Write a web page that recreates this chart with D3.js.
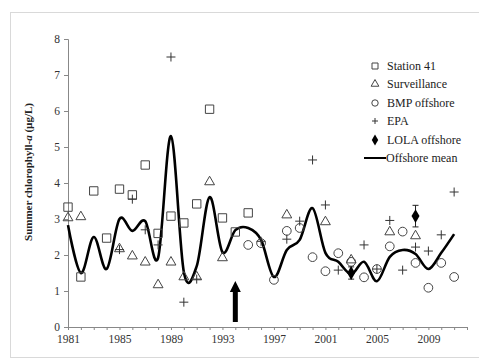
<!DOCTYPE html>
<html><head><meta charset="utf-8">
<script src="https://cdn.jsdelivr.net/npm/d3@7"></script>
<style>body{margin:0;background:#fff}svg{display:block}text{font-family:"Liberation Serif","DejaVu Serif",serif}</style>
</head><body><svg id="c" width="479" height="360"></svg>
<script>
const meanYears = d3.range(1981, 2012);
const offshoreMean = [2.83,1.5,2.5,1.61,3.0,2.67,2.94,1.92,5.3,1.53,1.69,3.61,2.08,2.69,2.75,2.42,1.39,2.14,2.42,3.3,2.06,1.81,1.47,1.81,1.27,1.95,2.14,2.03,1.61,2.06,2.58];
const station41Years = d3.range(1981, 1996);
const station41 = [3.33,1.39,3.78,2.47,3.83,3.67,4.5,2.6,3.08,2.89,3.42,6.05,3.03,2.64,3.17];
const survYears = [1981,1982,1985,1986,1987,1988,1989,1990,1991,1992,1993,1998,2001,2003,2006,2008];
const surveillance = [3.03,3.06,2.17,1.97,1.8,1.17,1.8,1.39,1.39,4.03,1.92,3.11,2.92,1.86,2.64,2.53];
const bmpYears = d3.range(1995, 2012);
const bmpOffshore = [2.28,2.33,1.31,2.67,2.75,1.94,1.55,2.05,1.81,1.38,1.61,2.24,2.65,1.78,1.09,1.78,1.39];
const epaYears = [1985,1986,1987,1988,1989,1990,1991,1996,1998,1999,2000,2001,2002,2004,2005,2006,2007,2008,2009,2010,2011];
const epa = [2.15,3.55,2.7,2.28,7.5,0.69,1.33,2.38,2.44,2.94,4.64,3.39,1.58,2.28,1.61,2.96,1.58,2.22,2.11,2.56,3.75];
const lolaYears = [2003, 2008];
const lola = [1.5, 3.08];
const lolaErr = [0.17, 0.3];
const yTicks = [0,1,2,3,4,5,6,7,8];
const xLabels = [1981,1985,1989,1993,1997,2001,2005,2009];
const legendLabels = ["Station 41","Surveillance","BMP offshore","EPA","LOLA offshore","Offshore mean"];
const arrowYear = 1994;

const svg = d3.select("#c");
const font = "Liberation Serif, DejaVu Serif, serif";
svg.append("rect").attr("x",10.5).attr("y",12.5).attr("width",480).attr("height",345)
  .attr("fill","#fff").attr("stroke","#d9d9d9");

const x = d3.scaleLinear().domain([1981, 2012]).range([68, 467]);
const y = d3.scaleLinear().domain([0, 8]).range([327, 39]);

const yAxis = svg.append("g").attr("transform","translate(68,0)")
  .call(d3.axisLeft(y).tickValues(yTicks).tickSize(4).tickFormat(d3.format("d")));
const xAxis = svg.append("g").attr("transform","translate(0,327)")
  .call(d3.axisBottom(x).tickValues(d3.range(1981, 2013)).tickSize(3)
    .tickFormat(d => xLabels.includes(d) ? d : ""));
[yAxis, xAxis].forEach(g => {
  g.attr("font-family", font);
  g.select(".domain").attr("stroke","#888");
  g.selectAll(".tick line").attr("stroke","#888");
  g.selectAll("text").attr("font-family",font).attr("font-size",11.5).attr("fill","#333");
});
yAxis.selectAll("text").attr("x",-8);
xAxis.selectAll("text").attr("y",8);

svg.append("text").attr("transform","translate(32,172) rotate(-90)")
  .attr("text-anchor","middle").attr("font-family",font).attr("font-size",11)
  .attr("font-weight","bold").attr("fill","#222")
  .html("Summer chlorophyll-<tspan font-style='italic'>a</tspan> (µg/L)");

const line = d3.line().x((d,i)=>x(meanYears[i])).y(d=>y(d)).curve(d3.curveCatmullRom.alpha(0));
svg.append("path").datum(offshoreMean).attr("d",line).attr("fill","none")
  .attr("stroke","#000").attr("stroke-width",2.6);

const sym = (type, size) => d3.symbol().type(type).size(size)();
const stroke = "#444";
function marks(years, vals, type, size) {
  svg.append("g").selectAll("path").data(vals).join("path")
    .attr("transform",(d,i)=>`translate(${x(years[i])},${y(d)})`)
    .attr("d", sym(type,size))
    .attr("fill", "none").attr("stroke", stroke).attr("stroke-width", 1);
}
marks(station41Years, station41, d3.symbolSquare, 70);
marks(survYears, surveillance, d3.symbolTriangle, 42);
marks(bmpYears, bmpOffshore, d3.symbolCircle, 60);
svg.append("g").selectAll("path").data(epa).join("path")
  .attr("transform",(d,i)=>`translate(${x(epaYears[i])},${y(d)})`)
  .attr("d","M-4.5,0H4.5M0,-4.5V4.5").attr("stroke","#333").attr("stroke-width",1).attr("fill","none");

const lg = svg.append("g");
lola.forEach((v,i) => {
  const cx = x(lolaYears[i]);
  lg.append("path").attr("d",`M${cx},${y(v+lolaErr[i])}V${y(v-lolaErr[i])}M${cx-3},${y(v+lolaErr[i])}H${cx+3}M${cx-3},${y(v-lolaErr[i])}H${cx+3}`)
    .attr("stroke","#222").attr("stroke-width",1);
});
lg.selectAll(".lola").data(lola).join("path")
  .attr("transform",(d,i)=>`translate(${x(lolaYears[i])},${y(d)})`)
  .attr("d",sym(d3.symbolDiamond,55)).attr("fill","#000");

const ax = x(arrowYear);
svg.append("path").attr("d",`M${ax-2.5},322V292H${ax-5.5}L${ax},281L${ax+5.5},292H${ax+2.5}V322Z`)
  .attr("fill","#000");

const leg = svg.append("g");
const ly = [66,84,103,121,140,158];
const lsyms = [[d3.symbolSquare,36],[d3.symbolTriangle,26],[d3.symbolCircle,32]];
legendLabels.forEach((t,i) => {
  leg.append("text").attr("x", i===5 ? 386 : 387).attr("y", ly[i]+4)
    .attr("font-family",font).attr("font-size",12).attr("fill","#222").text(t);
});
lsyms.forEach((s,i)=>{
  leg.append("path").attr("transform",`translate(375,${ly[i]})`).attr("d",sym(s[0],s[1]))
    .attr("fill","none").attr("stroke",stroke);
});
leg.append("path").attr("d",`M372,${ly[3]}H378M375,${ly[3]-3}V${ly[3]+3}`).attr("stroke","#333");
leg.append("path").attr("transform",`translate(375,${ly[4]})`).attr("d",sym(d3.symbolDiamond,36)).attr("fill","#000");
leg.append("path").attr("d",`M364,${ly[5]}H386`).attr("stroke","#000").attr("stroke-width",2);
</script></body></html>
